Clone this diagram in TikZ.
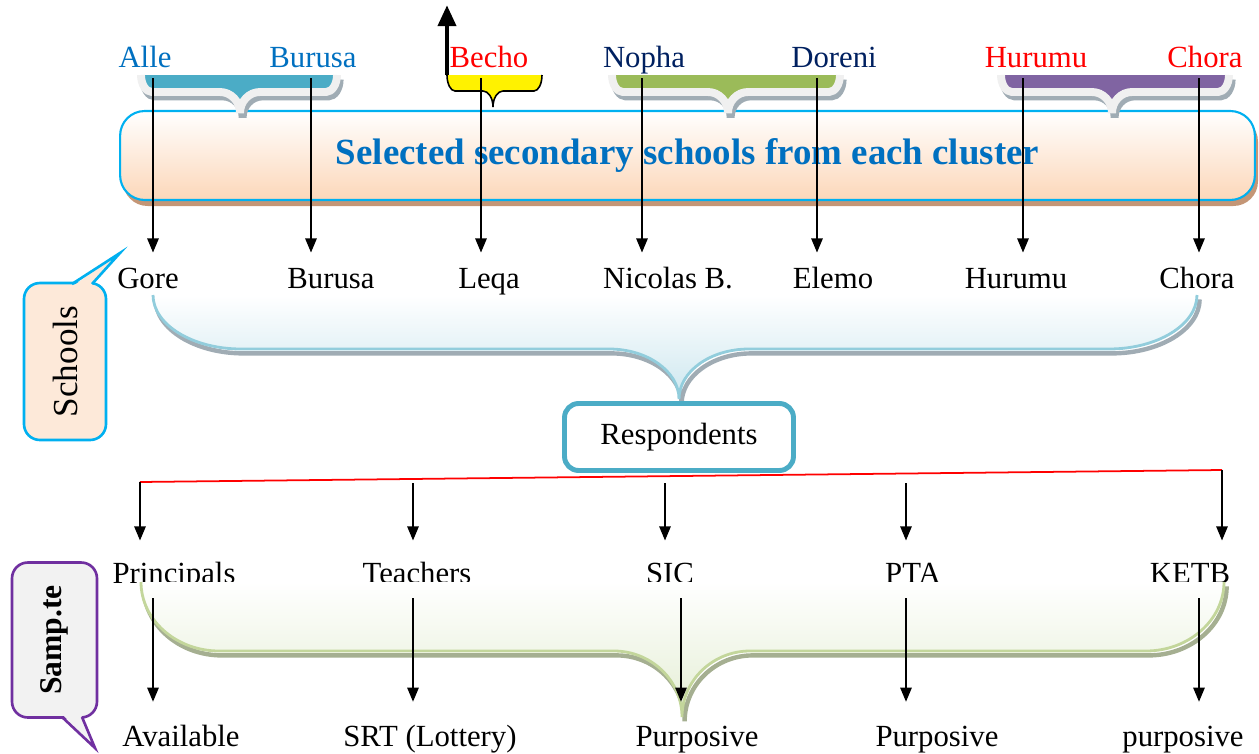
\documentclass[tikz,border=0pt]{standalone}
\usepackage{fontspec}
\setmainfont{Liberation Serif}
\usetikzlibrary{arrows.meta,shadows}

\definecolor{bluet}{RGB}{0,112,192}
\definecolor{navyt}{RGB}{0,32,96}
\definecolor{cyanb}{RGB}{0,176,240}
\definecolor{tealb}{RGB}{75,172,198}
\definecolor{greenb}{RGB}{155,187,89}
\definecolor{purpleb}{RGB}{128,100,162}
\definecolor{peachb}{RGB}{252,215,185}
\definecolor{peachl}{RGB}{253,233,217}
\definecolor{shadowb}{RGB}{160,172,180}
\definecolor{boxshadow}{RGB}{196,150,118}
\definecolor{blueline}{RGB}{146,205,220}
\definecolor{bluefill}{RGB}{205,231,239}
\definecolor{greenline}{RGB}{195,214,155}
\definecolor{greenfill}{RGB}{228,238,212}
\definecolor{greenshadow}{RGB}{165,175,145}
\definecolor{sampborder}{RGB}{112,48,160}

% x1, x2, xc, ytop, ymid, ytip, end radius, tip radius
\newcommand{\bracepath}[8]{(#1,#4)
  .. controls (#1,{#4+0.55*(#5-#4)}) and ({#1+0.45*#7},#5) .. ({#1+#7},#5)
  -- ({#3-#8},#5)
  .. controls ({#3-0.45*#8},#5) and (#3,{#5+0.45*(#6-#5)}) .. (#3,#6)
  .. controls (#3,{#5+0.45*(#6-#5)}) and ({#3+0.45*#8},#5) .. ({#3+#8},#5)
  -- ({#2-#7},#5)
  .. controls ({#2-0.45*#7},#5) and (#2,{#4+0.55*(#5-#4)}) .. (#2,#4)}

\newcommand{\topbrace}[4]{%
  \draw[line width=4.5pt, shadowb, xshift=1.5pt, yshift=-2.5pt] \bracepath{#1}{#2}{#3}{75}{92}{113}{11}{20};
  \fill[#4] \bracepath{#1}{#2}{#3}{75}{92}{113}{11}{20} -- cycle;
  \draw[line width=4.5pt, white!94!black] \bracepath{#1}{#2}{#3}{75}{92}{113}{11}{20};
}

\begin{document}
\begin{tikzpicture}[x=0.02cm, y=-0.02cm,
    lbl/.style={font=\fontsize{17.5}{20}\selectfont, anchor=base, inner sep=1pt,
      text height=12pt, text depth=3.5pt},
    arr/.style={line width=0.8pt, -{Triangle[length=8pt,width=6.5pt]}},
    bubble/.style={rounded corners=9pt, line width=1.5pt, inner sep=0pt}]

  \useasboundingbox (0,0) rectangle (1259,754);

  % cluster box
  \fill[boxshadow, rounded corners=14pt] (123,117) rectangle (1258,206);
  \node[draw=cyanb, line width=1.2pt, rounded corners=14pt, top color=white,
    bottom color=peachb, minimum width=22.7cm, minimum height=1.78cm,
    text=bluet, font=\bfseries\fontsize{21}{24}\selectfont] (title) at (687.5,155.5)
    {Selected secondary schools from each cluster};

  % cluster braces
  \topbrace{141}{337}{240}{tealb}
  \topbrace{612}{840}{728}{greenb}
  \topbrace{1001}{1229}{1112}{purpleb}
  \fill[yellow] \bracepath{447}{542}{493}{75}{91}{107}{8}{10} -- cycle;
  \draw[line width=0.9pt] \bracepath{447}{542}{493}{75}{91}{107}{8}{10};

  \coordinate (upfoot) at (447,75);
  \coordinate (uptip) at (447,5);
  \draw[line width=2.8pt, -{Triangle[length=12pt,width=10pt]}] (upfoot) -- (uptip);

  \node[lbl, text=bluet] (alle) at (145,67) {Alle};
  \node[lbl, text=bluet] (burusat) at (313,67) {Burusa};
  \node[lbl, text=red] (becho) at (489,67) {Becho};
  \node[lbl, text=navyt] (nopha) at (644,67) {Nopha};
  \node[lbl, text=navyt] (doreni) at (834,67) {Doreni};
  \node[lbl, text=red] (hurumut) at (1036,67) {Hurumu};
  \node[lbl, text=red] (chorat) at (1205,67) {Chora};

  \node[lbl] (gore) at (148,288) {Gore};
  \node[lbl] (burusa) at (331,288) {Burusa};
  \node[lbl] (leqa) at (489,288) {Leqa};
  \node[lbl] (nicolas) at (668,288) {Nicolas B.};
  \node[lbl] (elemo) at (833,288) {Elemo};
  \node[lbl] (hurumu) at (1016,288) {Hurumu};
  \node[lbl] (chora) at (1197,288) {Chora};

  \coordinate (t1) at (153,78);
  \coordinate (t2) at (311,78);
  \coordinate (t3) at (481,78);
  \coordinate (t4) at (642,78);
  \coordinate (t5) at (817,78);
  \coordinate (t6) at (1023,78);
  \coordinate (t7) at (1199,78);
  \draw[arr, shorten >=7pt] (t1) -- (t1 |- gore.north);
  \draw[arr, shorten >=7pt] (t2) -- (t2 |- burusa.north);
  \draw[arr, shorten >=7pt] (t3) -- (t3 |- leqa.north);
  \draw[arr, shorten >=7pt] (t4) -- (t4 |- nicolas.north);
  \draw[arr, shorten >=7pt] (t5) -- (t5 |- elemo.north);
  \draw[arr, shorten >=7pt] (t6) -- (t6 |- hurumu.north);
  \draw[arr, shorten >=7pt] (t7) -- (t7 |- chora.north);

  % schools brace
  \draw[line width=2.5pt, shadowb, xshift=1.5pt, yshift=-2.5pt] \bracepath{153}{1197}{679}{295}{349}{399}{88}{70};
  \shade[top color=white, bottom color=bluefill] \bracepath{153}{1197}{679}{295}{349}{399}{88}{70} -- cycle;
  \draw[line width=1.6pt, blueline] \bracepath{153}{1197}{679}{295}{349}{399}{88}{70};

  \node[bubble, draw=cyanb, fill=peachl, rotate=90, minimum width=3.14cm,
    minimum height=1.64cm, font=\fontsize{20}{22}\selectfont] (schoolsbub) at (65,361.5) {Schools};
  \coordinate (sp) at (120,253);
  \fill[peachl] (73,286) -- (sp) -- (91,286) -- cycle;
  \draw[cyanb, line width=1.5pt, line join=miter] (72,284) -- (sp) -- (92,284);

  \node[draw=tealb, line width=2.8pt, rounded corners=8pt, fill=white,
    minimum width=4.58cm, minimum height=1.34cm, lbl, anchor=center] (resp) at (679,437) {Respondents};

  % respondents
  \coordinate (rl) at (140,482);
  \coordinate (rr) at (1222,470);
  \draw[red, line width=1pt] (rl) -- (rr);

  \node[lbl] (princ) at (174,583) {Principals};
  \node[lbl] (teach) at (417,583) {Teachers};
  \node[lbl] (sic) at (670,583) {SIC};
  \node[lbl] (pta) at (913,583) {PTA};
  \node[lbl] (ketb) at (1190,583) {KETB};

  \coordinate (m2) at (413,483);
  \coordinate (m3) at (665,483);
  \coordinate (m4) at (906,483);
  \draw[arr, shorten >=11pt] (rl) -- (rl |- princ.north);
  \draw[arr, shorten >=11pt] (m2) -- (m2 |- teach.north);
  \draw[arr, shorten >=11pt] (m3) -- (m3 |- sic.north);
  \draw[arr, shorten >=11pt] (m4) -- (m4 |- pta.north);
  \draw[arr, shorten >=11pt] (rr) -- (rr |- ketb.north);

  % sampling brace
  \draw[line width=2.5pt, greenshadow, xshift=1.5pt, yshift=-2.5pt] \bracepath{141}{1224}{682}{582}{651}{717}{78}{68};
  \shade[top color=white, bottom color=greenfill] \bracepath{141}{1224}{682}{582}{651}{717}{78}{68} -- cycle;
  \draw[line width=1.6pt, greenline] \bracepath{141}{1224}{682}{582}{651}{717}{78}{68};

  \node[lbl] (avail) at (181,746) {Available};
  \node[lbl] (srt) at (430,746) {SRT (Lottery)};
  \node[lbl] (purp1) at (697,746) {Purposive};
  \node[lbl] (purp2) at (937,746) {Purposive};
  \node[lbl] (purp3) at (1183,746) {purposive};

  \coordinate (b1) at (153,598);
  \coordinate (b2) at (413,598);
  \coordinate (b3) at (681,598);
  \coordinate (b4) at (906,598);
  \coordinate (b5) at (1199,598);
  \draw[arr, shorten >=12pt] (b1) -- (b1 |- avail.north);
  \draw[arr, shorten >=12pt] (b2) -- (b2 |- srt.north);
  \draw[arr, shorten >=12pt] (b3) -- (b3 |- purp1.north);
  \draw[arr, shorten >=12pt] (b4) -- (b4 |- purp2.north);
  \draw[arr, shorten >=12pt] (b5) -- (b5 |- purp3.north);

  \node[bubble, draw=sampborder, fill=black!5, rotate=90, minimum width=3.1cm,
    minimum height=1.7cm, font=\bfseries\fontsize{18}{20}\selectfont] (sampbub) at (54.5,640) {Samp.te};
  \coordinate (bp) at (95,748);
  \fill[black!5] (63,715) -- (bp) -- (81,715) -- cycle;
  \draw[sampborder, line width=1.5pt, line join=miter] (62,717) -- (bp) -- (82,717);

\end{tikzpicture}
\end{document}
